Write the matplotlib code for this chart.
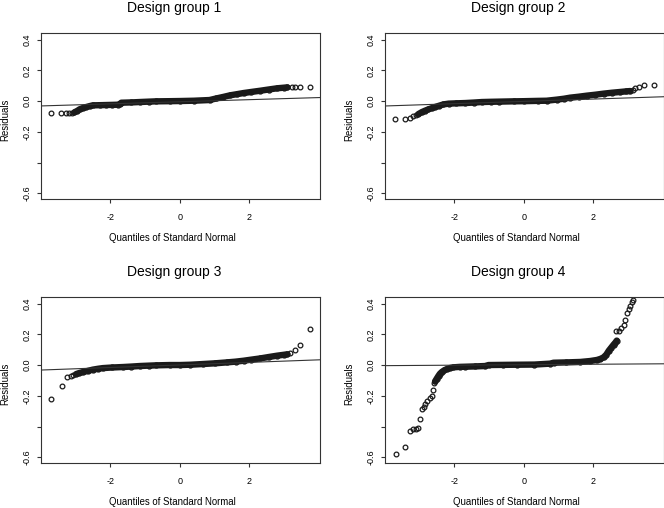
import numpy as np
import matplotlib
matplotlib.use('Agg')
import matplotlib.pyplot as plt

plt.rcParams['font.family'] = ['Liberation Sans', 'DejaVu Sans']

titles = ['Design group 1', 'Design group 2', 'Design group 3', 'Design group 4']

# dense part of each QQ plot (points overlap into a solid band)
g1_x = [-3.04, -2.95, -2.89, -2.80, -2.70, -2.60, -2.51, -2.30, -2.13, -1.95, -1.79, -1.72,
        -1.69, -1.40, -1.16, -0.90, -0.68, -0.30, 0.0, 0.40, 0.85, 1.05, 1.25, 1.44, 1.65,
        1.83, 2.05, 2.31, 2.55, 2.80, 3.00, 3.09]
g1_y = [-0.074, -0.063, -0.054, -0.046, -0.039, -0.033, -0.028, -0.027, -0.026, -0.025, -0.024,
        -0.018, -0.011, -0.009, -0.0065, -0.004, -0.002, -0.001, 0.0, 0.002, 0.0065, 0.017,
        0.027, 0.037, 0.045, 0.052, 0.059, 0.067, 0.075, 0.083, 0.087, 0.089]
g2_x = [-3.04, -2.94, -2.85, -2.75, -2.65, -2.56, -2.45, -2.32, -2.17, -1.95, -1.69, -1.45,
        -1.21, -0.95, -0.73, -0.30, 0.0, 0.40, 0.65, 0.94, 1.15, 1.33, 1.57, 1.81, 2.05, 2.29,
        2.53, 2.77, 2.95, 3.06]
g2_y = [-0.085, -0.072, -0.063, -0.054, -0.046, -0.039, -0.031, -0.022, -0.017, -0.015, -0.013,
        -0.010, -0.0065, -0.005, -0.004, -0.002, -0.001, 0.001, 0.002, 0.009, 0.015, 0.022,
        0.028, 0.035, 0.041, 0.048, 0.054, 0.059, 0.063, 0.065]
g3_x = [-2.99, -2.90, -2.80, -2.65, -2.51, -2.35, -2.22, -1.95, -1.64, -1.40, -1.16, -0.90,
        -0.68, -0.30, 0.0, 0.30, 0.66, 1.00, 1.34, 1.60, 1.83, 2.05, 2.31, 2.55, 2.80, 3.00, 3.09]
g3_y = [-0.059, -0.052, -0.046, -0.038, -0.030, -0.024, -0.020, -0.016, -0.013, -0.010, -0.0065,
        -0.004, -0.002, 0.0, 0.0, 0.002, 0.0065, 0.011, 0.017, 0.022, 0.028, 0.035, 0.043, 0.052,
        0.061, 0.067, 0.070]
g4_x = [-2.56, -2.51, -2.46, -2.42, -2.37, -2.30, -2.22, -2.12, -2.03, -1.85, -1.69, -1.40,
        -1.12, -1.02, -0.60, -0.20, 0.30, 0.75, 0.85, 1.20, 1.62, 1.90, 2.10, 2.20, 2.29, 2.37,
        2.44, 2.51, 2.58, 2.63, 2.67]
g4_y = [-0.107, -0.088, -0.070, -0.057, -0.046, -0.035, -0.026, -0.019, -0.015, -0.012, -0.011,
        -0.009, -0.0065, 0.0, 0.001, 0.002, 0.003, 0.009, 0.015, 0.017, 0.020, 0.026, 0.033,
        0.040, 0.050, 0.068, 0.093, 0.113, 0.133, 0.146, 0.159]

# separate points in the tails
t1_x = [-3.70, -3.41, -3.28, -3.18, -3.10, 3.23, 3.30, 3.44, 3.75]
t1_y = [-0.080, -0.080, -0.080, -0.079, -0.077, 0.090, 0.090, 0.091, 0.093]
t2_x = [-3.71, -3.42, -3.28, -3.18, -3.11, 3.13, 3.20, 3.30, 3.44, 3.73]
t2_y = [-0.115, -0.115, -0.109, -0.098, -0.091, 0.072, 0.083, 0.093, 0.104, 0.107]
t3_x = [-3.70, -3.40, -3.26, -3.13, -3.07, 3.18, 3.31, 3.44, 3.73]
t3_y = [-0.221, -0.135, -0.076, -0.070, -0.065, 0.076, 0.096, 0.128, 0.234]
t4_x = [-3.68, -3.41, -3.28, -3.18, -3.11, -3.04, -2.99, -2.94, -2.89, -2.85, -2.78, -2.70,
        -2.65, -2.61, -2.58, 2.66, 2.73, 2.80, 2.87, 2.91, 2.96, 3.01, 3.06, 3.11, 3.13]
t4_y = [-0.578, -0.533, -0.428, -0.417, -0.415, -0.409, -0.350, -0.287, -0.276, -0.254, -0.233,
        -0.215, -0.200, -0.160, -0.120, 0.220, 0.224, 0.239, 0.263, 0.295, 0.337, 0.365, 0.387,
        0.409, 0.420]

# reference lines (intercept, slope)
line_a = [-0.0047, -0.0022, 0.0006, 0.002]
line_b = [0.0068, 0.0075, 0.0083, 0.0015]

dense = [(g1_x, g1_y), (g2_x, g2_y), (g3_x, g3_y), (g4_x, g4_y)]
tails = [(t1_x, t1_y), (t2_x, t2_y), (t3_x, t3_y), (t4_x, t4_y)]

yticks = [-0.6, -0.4, -0.2, 0.0, 0.2, 0.4]
ytick_labels = ['-0.6', '', '-0.2', '0.0', '0.2', '0.4']
xticks = [-2, 0, 2]

fig = plt.figure(figsize=(6.64, 5.08), dpi=100)
W, H = 664.0, 508.0
boxes = [(41, 33.4), (385, 33.4), (41, 297.4), (385, 297.4)]
bw, bh = 279.0, 166.0
ink = '#1a1a1a'

for i in range(4):
    left, top = boxes[i]
    ax = fig.add_axes([left / W, 1 - (top + bh) / H, bw / W, bh / H])
    xd, yd = dense[i]
    ax.plot(xd, yd, '-', color=ink, lw=4.6, solid_capstyle='round', solid_joinstyle='round')
    ax.plot(xd, yd, 'o', mfc='none', mec=ink, ms=3.5, mew=1.0)
    xt, yt = tails[i]
    ax.plot(xt, yt, 'o', mfc='none', mec=ink, ms=3.4, mew=0.9)
    ax.axline((0, line_a[i]), slope=line_b[i], color='#333333', lw=0.8)
    ax.set_xlim(-4.0, 4.03)
    ax.set_ylim(-0.64, 0.44)
    ax.set_xticks(xticks)
    ax.set_xticklabels([str(v) for v in xticks])
    ax.set_yticks(yticks)
    ax.set_yticklabels(ytick_labels)
    ax.tick_params(axis='both', length=3, width=0.8, color='#333333', labelsize=6.5)
    ax.tick_params(axis='x', pad=6.5)
    ax.tick_params(axis='y', pad=3.5, labelrotation=90)
    for lbl in ax.get_yticklabels():
        lbl.set_va('center')
    for s in ax.spines.values():
        s.set_linewidth(0.8)
        s.set_color('#333333')
    ax.text(0.477, 1.155, titles[i], transform=ax.transAxes, ha='center', va='center', fontsize=10)
    ax.text(0.471, -0.235, 'Quantiles of Standard Normal', transform=ax.transAxes,
            ha='center', va='center', fontsize=6.9)
    ax.text(-0.129, 0.48, 'Residuals', transform=ax.transAxes, ha='center', va='center',
            rotation=90, fontsize=6.9)

fig.savefig('out.png', dpi=100)
